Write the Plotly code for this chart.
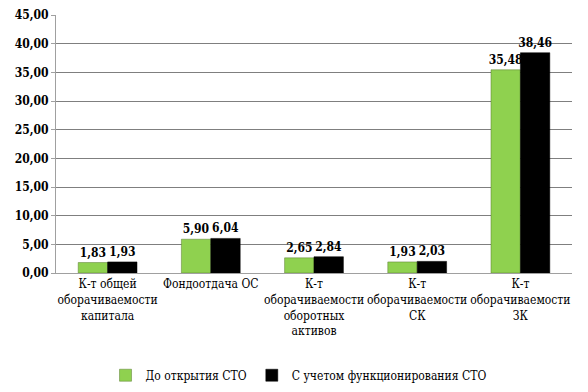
import plotly.graph_objects as go

categories = ["К-т общей<br>оборачиваемости<br>капитала", "Фондоотдача ОС",
              "К-т<br>оборачиваемости<br>оборотных<br>активов",
              "К-т<br>оборачиваемости<br>СК", "К-т<br>оборачиваемости<br>ЗК"]
before = [1.83, 5.90, 2.65, 1.93, 35.48]
after = [1.93, 6.04, 2.84, 2.03, 38.46]
series_names = ["До открытия СТО", "С учетом функционирования СТО"]
tick_vals = [0, 5, 10, 15, 20, 25, 30, 35, 40, 45]

font = "DejaVu Serif Condensed, DejaVu Serif"

fig = go.Figure()
fig.add_trace(go.Bar(x=categories, y=before, name=series_names[0],
                     marker=dict(color="#8fd14f", line=dict(color="#5a7a30", width=0.5)),
                     text=[f"{v:.2f}".replace(".", ",") for v in before],
                     textposition="outside", cliponaxis=False, constraintext="none",
                     textfont=dict(family=font, size=12, color="black")))
fig.add_trace(go.Bar(x=categories, y=after, name=series_names[1],
                     marker=dict(color="black", line=dict(color="black", width=0.5)),
                     text=[f"{v:.2f}".replace(".", ",") for v in after],
                     textposition="outside", cliponaxis=False, constraintext="none",
                     textfont=dict(family=font, size=12, color="black")))

fig.update_layout(
    width=588, height=392,
    margin=dict(l=48, r=24, t=7, b=127, autoexpand=False),
    paper_bgcolor="white", plot_bgcolor="white",
    barmode="group", bargap=0.43, bargroupgap=0,
    separators=", ",
    font=dict(family=font, size=12, color="black"),
    showlegend=True,
    legend=dict(orientation="h", x=0.47, xanchor="center", y=-0.34, yanchor="top",
                font=dict(family=font, size=12), itemwidth=30, traceorder="normal"),
    xaxis=dict(showline=True, linecolor="#a0a0a0", linewidth=1, automargin=False,
               ticks="", tickangle=0, tickfont=dict(family=font, size=12)),
    yaxis=dict(range=[0, 45.05], tickvals=tick_vals, tickformat=".2f", automargin=False,
               showgrid=True, gridcolor="#7f7f7f", gridwidth=1,
               showline=True, linecolor="#a0a0a0", linewidth=1,
               ticks="outside", ticklen=4, tickcolor="#a0a0a0",
               tickfont=dict(family=font, size=12, color="black"),
               zeroline=False),
)
fig.update_yaxes(tickfont_weight="bold")
fig.update_traces(textfont_weight="bold")

fig.write_html("out.html")
